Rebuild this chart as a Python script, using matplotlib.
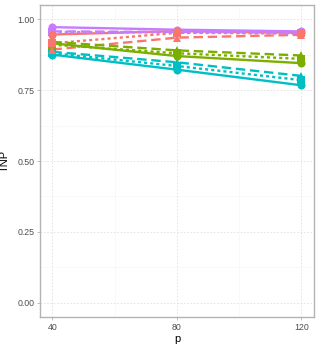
"""TNP vs p, four methods x three settings (ggplot-like light theme)."""

import matplotlib
matplotlib.use('Agg')
import matplotlib.pyplot as plt

plt.rcParams.update({
    'font.family': ['Liberation Sans', 'DejaVu Sans'],
})

# ── Data ──────────────────────────────────────────────────────────────────────
p = [40, 80, 120]

settings = ['solid', 'dashed', 'dotted']
methods = ['A', 'B', 'C', 'D']

tnp_A = [[0.946, 0.958, 0.952], [0.893, 0.935, 0.945], [0.915, 0.952, 0.950]]
tnp_B = [[0.915, 0.870, 0.845], [0.920, 0.890, 0.872], [0.910, 0.880, 0.860]]
tnp_C = [[0.875, 0.822, 0.767], [0.885, 0.848, 0.800], [0.880, 0.835, 0.785]]
tnp_D = [[0.972, 0.963, 0.957], [0.957, 0.955, 0.953], [0.955, 0.953, 0.950]]

# ── Style ─────────────────────────────────────────────────────────────────────
COLORS  = {'A': '#F8766D', 'B': '#7CAE00', 'C': '#00BFC4', 'D': '#C77CFF'}
MARKERS = {'solid': 'o', 'dashed': '^', 'dotted': 's'}
LS      = {'solid': '-', 'dashed': (0, (4, 2)), 'dotted': (0, (1.3, 1.3))}

fig = plt.figure(figsize=(3.19, 3.48), dpi=100, facecolor='white')
ax = fig.add_axes([0.1254, 0.0891, 0.8586, 0.8965])

data = {'A': tnp_A, 'B': tnp_B, 'C': tnp_C, 'D': tnp_D}

# lines first, then points (like geom_line + geom_point)
for m in ['A', 'B', 'C', 'D']:
    for s, vals in zip(settings, data[m]):
        ax.plot(p, vals, color=COLORS[m], linestyle=LS[s], lw=1.7, zorder=3,
                solid_capstyle='butt', dash_capstyle='butt')

for m in ['D', 'C', 'B', 'A']:
    for s, vals in zip(['dotted', 'dashed', 'solid'],
                       [data[m][2], data[m][1], data[m][0]]):
        ax.plot(p, vals, ls='none', color=COLORS[m], marker=MARKERS[s],
                ms=5.8, markeredgewidth=0, zorder=4)

ax.set_xlim(36, 124)
ax.set_ylim(-0.05, 1.05)
ax.set_xticks(p)
ax.set_yticks([0, 0.25, 0.5, 0.75, 1.0])
ax.set_yticklabels(['0.00', '0.25', '0.50', '0.75', '1.00'])
ax.set_xticks([60, 100], minor=True)
ax.set_yticks([0.125, 0.375, 0.625, 0.875], minor=True)

ax.grid(which='major', color='#E0E0E0', lw=0.6, ls=(0, (2, 2)), zorder=0)
ax.grid(which='minor', color='#EBEBEB', lw=0.4, ls=(0, (2, 2)), zorder=0)
ax.set_axisbelow(True)

for sp in ax.spines.values():
    sp.set_color('#B3B3B3')
    sp.set_linewidth(1.0)

ax.tick_params(which='major', length=2.5, width=0.6, color='#B3B3B3',
               labelsize=6.3, labelcolor='#4D4D4D', pad=1.5)
ax.tick_params(which='minor', length=0)

ax.set_xlabel('p', fontsize=8, labelpad=2)
ax.set_ylabel('TNP', fontsize=8)
ax.yaxis.set_label_coords(-0.112, 0.5)

fig.savefig('out.png', dpi=100)
